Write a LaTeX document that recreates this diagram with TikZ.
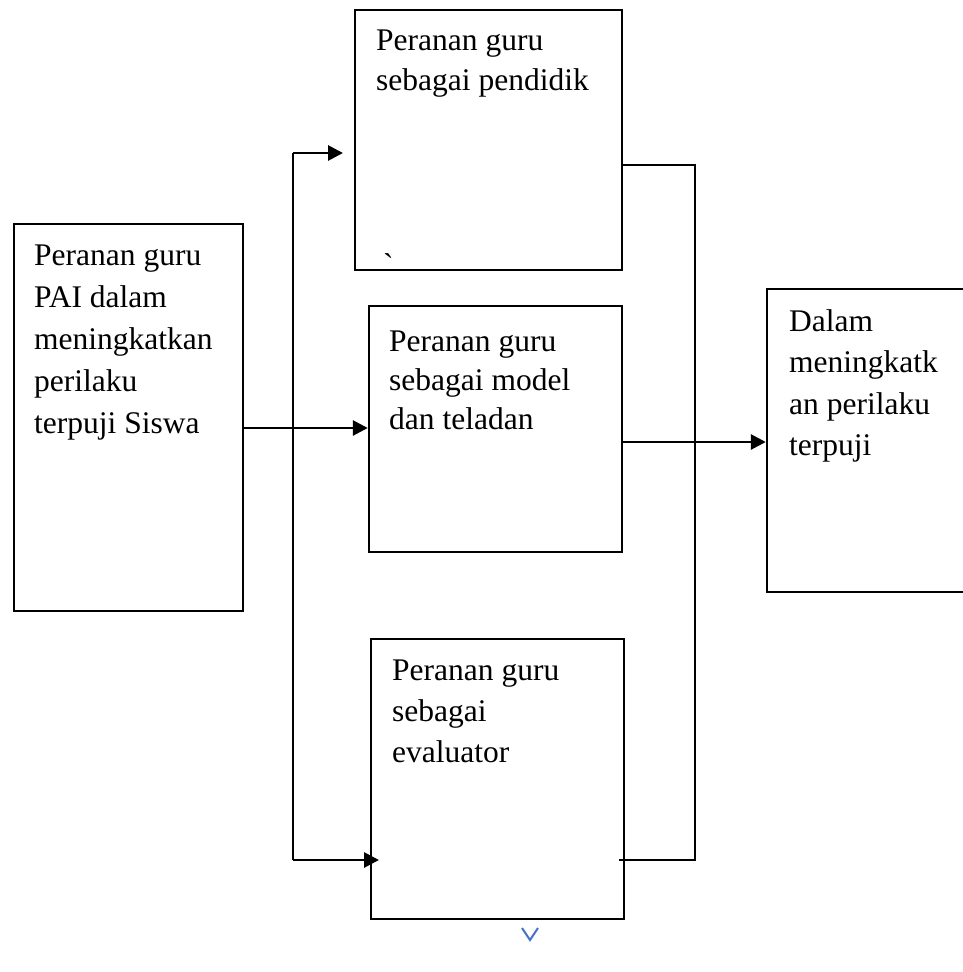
\documentclass[tikz,border=0pt]{standalone}
\usepackage{fontspec}
\setmainfont{Liberation Serif}
\usetikzlibrary{arrows.meta}
\begin{document}
\begin{tikzpicture}[x=1pt,y=-1pt,
  box/.style={draw, line width=2.4pt, inner sep=0pt, rectangle},
  lbl/.style={anchor=base west, inner sep=0pt, align=left},
  conn/.style={line width=2.8pt},
  arr/.style={line width=2.8pt, -{Triangle[length=15pt,width=15pt]}}]
\useasboundingbox (0,0) rectangle (963,972);
% boxes
\node[box, minimum width=229pt, minimum height=387pt] (left) at (128.5,417.5) {};
\node[box, minimum width=267pt, minimum height=260pt] (top) at (488.5,140) {};
\node[box, minimum width=253pt, minimum height=246pt] (mid) at (495.5,429) {};
\node[box, minimum width=253pt, minimum height=280pt] (bot) at (497.5,779) {};
\node[box, minimum width=200pt, minimum height=303pt] (right) at (867,440.5) {};
% texts (anchor = baseline of the last line)
\node[lbl, font=\fontsize{31.5}{42}\selectfont] (tleft) at (34,433) {Peranan guru\\PAI dalam\\meningkatkan\\perilaku\\terpuji Siswa};
\node[lbl, font=\fontsize{31.5}{40}\selectfont] (ttop) at (376,90) {Peranan guru\\sebagai pendidik};
\node[lbl, font=\fontsize{31.5}{39}\selectfont] (tmid) at (389,429) {Peranan guru\\sebagai model\\dan teladan};
\node[lbl, font=\fontsize{31.5}{41}\selectfont] (tbot) at (392,762) {Peranan guru\\sebagai\\evaluator};
\node[lbl, font=\fontsize{31.5}{41.5}\selectfont] (tright) at (789,455.5) {Dalam\\meningkatk\\an perilaku\\terpuji};
\node[lbl, font=\fontsize{31.5}{41}\selectfont] (tick) at (383,275) {\symbol{"02CB}};
% coordinates of the bus lines
\coordinate (busT) at (293,153);
\coordinate (busB) at (293,860);
\coordinate (inY) at (293,428);
\coordinate (outT) at (695,165);
\coordinate (outB) at (695,860);
\coordinate (outY) at (695,442);
\coordinate (botIn) at (379,860);
\coordinate (botOut) at (619,860);
\coordinate (topIn) at (343,153);
% connectors
\draw[conn] (busT) -- (busB);
\draw[arr] (busT) -- (topIn);
\draw[arr] (busB) -- (botIn);
\draw[arr] (left.east |- inY) -- (mid.west |- inY);
\draw[conn] (top.east |- outT) -- (outT) -- (outB) -- (botOut);
\draw[arr] (mid.east |- outY) -- (right.west |- outY);
% small blue mark
\draw[line width=2pt, color={rgb,255:red,68;green,114;blue,196}] (522,928) -- (530,940) -- (538,928);
\end{tikzpicture}
\end{document}
